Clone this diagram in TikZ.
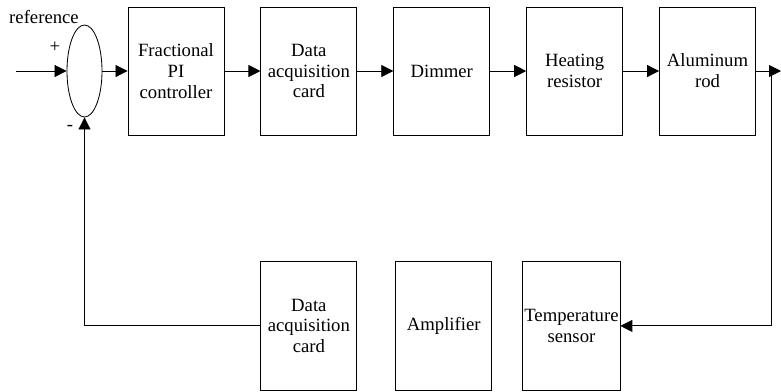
\documentclass[tikz,border=0pt]{standalone}
\usepackage{fontspec}
\setmainfont{Liberation Serif}
\usetikzlibrary{arrows.meta,positioning,shapes.geometric}
\tikzset{
    blk/.style={rectangle, draw, semithick, minimum width=2.4cm, minimum height=3.2cm, align=center, inner sep=1pt, font=\fontsize{13.3}{14.8}\selectfont},
    sumj/.style={ellipse, draw, semithick, minimum width=0.875cm, minimum height=2.3cm, inner sep=0},
    txt/.style={inner sep=0, font=\fontsize{13.3}{15}\selectfont},
    pre/.style = {{Triangle[length=3mm,width=3mm]}-, semithick},
    post/.style= {-{Triangle[length=3mm,width=3mm]}, semithick},
  }

\begin{document}
\begin{tikzpicture}[x=0.025cm, y=-0.025cm, node distance=0.9cm]
  \useasboundingbox (0,0) rectangle (781,391);
      % forward path
      \coordinate (in) at (16,71);
      \node (sum) [sumj] at (84.5,71) {}
          edge [pre] (in);
      \node (ctrl) [blk] at (176,71) {Fractional\\PI\\controller}
          edge [pre] (sum);
      \node (dacq) [blk, right=of ctrl] {Data\\acquisition\\card}
          edge [pre] (ctrl);
      \node (dim) [blk, right=of dacq] {Dimmer}
          edge [pre] (dacq);
      \node (heat) [blk, right=of dim] {Heating\\resistor}
          edge [pre] (dim);
      \node (alu) [blk, right=of heat] {Aluminum\\rod}
          edge [pre] (heat);
      \coordinate (out) at (781,71);
      \coordinate (tap) at (771,71);
      \draw [post] (alu) -- (out);

      % feedback path
      \node (dacq2) [blk, below=3.15cm of dacq] {Data\\acquisition\\card};
      \node (amp) [blk, below=3.15cm of dim, xshift=0.05cm] {Amplifier};
      \node (sens) [blk, below=3.15cm of heat, xshift=-0.08cm] {Temperature\\sensor};
      \draw [post] (tap) |- (sens.east);
      \draw [post] (dacq2.west) -| (sum.south);

      % signs
      \node (ref) [txt] at (44,17) {reference};
      \node (plus) [txt] at (55,47) {+};
      \node (minus) [txt] at (70,128) {-};
  \end{tikzpicture}
\end{document}
